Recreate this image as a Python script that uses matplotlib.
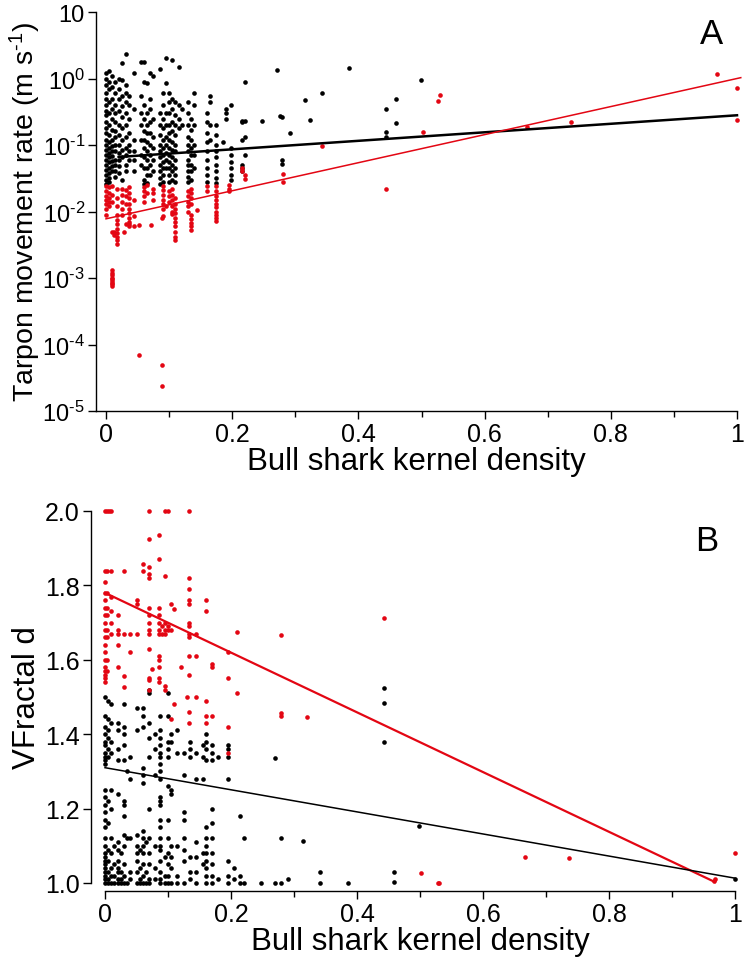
import numpy as np
import matplotlib
matplotlib.use("Agg")
import matplotlib.pyplot as plt

plt.rcParams['font.family'] = ['Liberation Sans', 'DejaVu Sans']
plt.rcParams['mathtext.fontset'] = 'custom'
plt.rcParams['mathtext.rm'] = 'Liberation Sans'
plt.rcParams['mathtext.default'] = 'regular'

RED = '#e30613'

# ---- panel A: movement rate (log scale), points grouped by kernel-density column
a_blk_x = [0.0, 0.004, 0.009, 0.015, 0.02, 0.026, 0.031, 0.036, 0.045, 0.055,
           0.06, 0.065, 0.07, 0.075, 0.085, 0.09, 0.095, 0.1, 0.105, 0.11,
           0.115, 0.12, 0.13, 0.135, 0.14, 0.16, 0.165, 0.175, 0.185, 0.19,
           0.198, 0.215, 0.22, 0.248, 0.271, 0.276, 0.279, 0.292, 0.315, 0.323,
           0.342, 0.385, 0.444, 0.46, 0.499]
a_blk_y = [
    [1.2, 1.0, 0.8, 0.6, 0.5, 0.4, 0.33, 0.28, 0.22, 0.18, 0.15, 0.12, 0.1, 0.085, 0.07, 0.06, 0.05, 0.042, 0.035, 0.03, 0.026],
    [1.3, 0.9, 0.7, 0.45, 0.3, 0.2, 0.14, 0.11, 0.09, 0.075, 0.065, 0.055, 0.045, 0.038, 0.032, 0.028],
    [1.1, 0.75, 0.5, 0.35, 0.25, 0.17, 0.12, 0.095, 0.08, 0.068, 0.058, 0.048, 0.04],
    [0.9, 0.6, 0.4, 0.3, 0.22, 0.16, 0.13, 0.1, 0.08, 0.06, 0.05, 0.04, 0.033],
    [1.0, 0.7, 0.5, 0.32, 0.2, 0.14, 0.1, 0.075, 0.06, 0.048, 0.038],
    [1.7, 0.95, 0.55, 0.38, 0.26, 0.18, 0.12, 0.085, 0.065, 0.03],
    [2.3, 0.8, 0.6, 0.45, 0.3, 0.2, 0.13, 0.09, 0.07, 0.05, 0.04],
    [0.55, 0.4, 0.25, 0.15, 0.1, 0.08, 0.06],
    [1.2, 0.35, 0.12, 0.08, 0.06, 0.04],
    [1.8, 0.55, 0.3, 0.2, 0.12, 0.07, 0.05],
    [1.8, 0.9, 0.4, 0.25, 0.16, 0.12, 0.09, 0.065, 0.045, 0.03, 0.026],
    [0.85, 0.3, 0.2, 0.15, 0.11, 0.08, 0.06, 0.045, 0.035, 0.027],
    [1.2, 0.5, 0.35, 0.22, 0.15, 0.1, 0.07, 0.05, 0.035],
    [1.1, 0.25, 0.13, 0.09, 0.06, 0.04],
    [1.4, 0.3, 0.2, 0.14, 0.1, 0.08, 0.065, 0.05, 0.04, 0.032, 0.026],
    [0.6, 0.4, 0.25, 0.18, 0.12, 0.09, 0.07, 0.055, 0.045, 0.035, 0.028],
    [2.0, 0.85, 0.3, 0.2, 0.13, 0.1, 0.075, 0.06, 0.045],
    [0.6, 0.45, 0.3, 0.2, 0.15, 0.12, 0.09, 0.07, 0.055, 0.045, 0.035, 0.028],
    [1.9, 0.5, 0.35, 0.22, 0.16, 0.11, 0.085, 0.065, 0.05, 0.04, 0.03],
    [0.45, 0.28, 0.2, 0.14, 0.1, 0.08, 0.06, 0.045, 0.035, 0.028],
    [1.5, 0.4, 0.25, 0.18],
    [0.35, 0.2],
    [0.45, 0.3, 0.2, 0.13, 0.1, 0.08, 0.06, 0.05, 0.04, 0.033, 0.028],
    [0.25, 0.17, 0.12, 0.09, 0.07, 0.05, 0.04, 0.03],
    [0.6, 0.4, 0.2, 0.1, 0.07, 0.045],
    [0.3, 0.22, 0.15, 0.11, 0.08, 0.06, 0.045, 0.035, 0.028],
    [0.55, 0.45, 0.2, 0.12],
    [0.2, 0.14, 0.1, 0.08, 0.065, 0.05, 0.04, 0.032, 0.027],
    [0.11],
    [0.35, 0.3, 0.25],
    [0.4, 0.09, 0.07, 0.055, 0.045, 0.035, 0.03],
    [0.23, 0.22, 0.12, 0.05, 0.045, 0.04],
    [0.9, 0.23, 0.13, 0.07],
    [0.23],
    [1.36],
    [0.275],
    [0.26, 0.06, 0.052],
    [0.152],
    [0.47],
    [0.24],
    [0.6],
    [1.44],
    [0.35, 0.157, 0.13],
    [0.5, 0.215],
    [0.95],
]

a_red_x = [0.0, 0.004, 0.009, 0.013, 0.018, 0.026, 0.029, 0.031, 0.036, 0.045,
           0.052, 0.06, 0.065, 0.072, 0.075, 0.088, 0.09, 0.095, 0.1, 0.104,
           0.105, 0.11, 0.13, 0.135, 0.145, 0.16, 0.175, 0.195, 0.215, 0.22,
           0.28, 0.342, 0.444, 0.502, 0.526, 0.53, 0.667, 0.737, 0.968, 1.0]
a_red_y = [
    [0.024, 0.02, 0.017, 0.015, 0.013, 0.011, 0.009],
    [0.023, 0.019, 0.016, 0.014, 0.012],
    [0.024, 0.018, 0.014, 0.005, 0.0013, 0.0012, 0.0011, 0.001, 0.00095, 0.0009, 0.00085, 0.0008, 0.00075],
    [0.005, 0.0045],
    [0.022, 0.016, 0.012, 0.009, 0.0075, 0.0065, 0.0055, 0.0048, 0.0042, 0.0037, 0.0033],
    [0.022, 0.018, 0.014, 0.011, 0.009],
    [0.0049],
    [0.021, 0.017, 0.013, 0.0065],
    [0.023, 0.019, 0.016, 0.013, 0.011, 0.0095, 0.008, 0.007, 0.0065, 0.006],
    [0.015, 0.0085, 0.006],
    [0.0063, 0.000069],
    [0.023, 0.02, 0.017, 0.014],
    [0.025, 0.019],
    [0.0063],
    [0.022, 0.019, 0.015],
    [0.0081, 0.000049, 0.000024],
    [0.024, 0.021, 0.018, 0.015, 0.013, 0.011, 0.0085],
    [0.012],
    [0.02, 0.017, 0.014],
    [0.0092],
    [0.022, 0.018, 0.015, 0.012, 0.01],
    [0.016, 0.013, 0.011, 0.0095, 0.008, 0.007, 0.006, 0.005, 0.0042, 0.0037],
    [0.02, 0.017, 0.014, 0.012, 0.01],
    [0.022, 0.019, 0.016, 0.013, 0.009, 0.0078, 0.0068, 0.006, 0.0053],
    [0.0105],
    [0.024, 0.02],
    [0.024, 0.02, 0.017, 0.015, 0.013, 0.0115, 0.01, 0.009, 0.008, 0.0072],
    [0.025, 0.022, 0.02],
    [0.045, 0.04],
    [0.035, 0.031],
    [0.037, 0.028],
    [0.098],
    [0.022],
    [0.157],
    [0.46],
    [0.57],
    [0.185],
    [0.22],
    [1.17],
    [0.72, 0.24],
]

# fitted lines: log10(y) = intercept + slope * x, drawn over x range
a_blk_fit = (-1.193, 0.64)
a_blk_range = (0.02, 1.0)
a_red_fit = (-2.11, 2.11)
a_red_range = (0.0, 1.006)

a_yticks = [1e-5, 1e-4, 1e-3, 1e-2, 1e-1, 1e0, 1e1]
a_yticklabels = ['$10^{\\text{-}5}$', '$10^{\\text{-}4}$', '$10^{\\text{-}3}$',
                 '$10^{\\text{-}2}$', '$10^{\\text{-}1}$', '$10^{0}$', '10']

# ---- panel B: VFractal d
b_blk_x = [0.0, 0.005, 0.01, 0.015, 0.02, 0.025, 0.03, 0.035, 0.04, 0.05,
           0.055, 0.06, 0.065, 0.07, 0.08, 0.088, 0.095, 0.1, 0.105, 0.115,
           0.125, 0.135, 0.145, 0.155, 0.16, 0.17, 0.18, 0.195, 0.205, 0.215,
           0.22, 0.248, 0.27, 0.28, 0.29, 0.314, 0.341, 0.385, 0.443, 0.459,
           0.498, 1.0]
b_blk_y = [
    [1.5, 1.45, 1.42, 1.4, 1.38, 1.37, 1.35, 1.34, 1.33, 1.32, 1.25, 1.23, 1.21, 1.19, 1.17, 1.15, 1.12, 1.1, 1.08, 1.07, 1.06, 1.05, 1.04, 1.03, 1.02, 1.01, 1.0],
    [1.49, 1.44, 1.41, 1.39, 1.36, 1.34, 1.22, 1.16, 1.09, 1.06, 1.03, 1.01, 1.0],
    [1.48, 1.43, 1.38, 1.35, 1.25, 1.2, 1.12, 1.08, 1.04, 1.02, 1.0],
    [1.1, 1.05, 1.02, 1.0],
    [1.43, 1.41, 1.36, 1.33, 1.24, 1.11, 1.09, 1.06, 1.04, 1.03, 1.01, 1.0],
    [1.08, 1.03, 1.01, 1.0],
    [1.48, 1.42, 1.4, 1.37, 1.33, 1.22, 1.21, 1.18, 1.13, 1.1, 1.05, 1.02, 1.0],
    [1.3, 1.12, 1.0],
    [1.34, 1.28, 1.12, 1.03, 1.01],
    [1.47, 1.41, 1.13, 1.1, 1.08, 1.06, 1.03, 1.0],
    [1.09, 1.04, 1.01, 1.0],
    [1.47, 1.45, 1.42, 1.31, 1.29, 1.27, 1.14, 1.12, 1.1, 1.08, 1.05, 1.02, 1.0],
    [1.11, 1.03, 1.0],
    [1.52, 1.51, 1.43, 1.39, 1.34, 1.2, 1.12, 1.08, 1.05, 1.01, 1.0],
    [1.4, 1.36, 1.29, 1.1, 1.04, 1.01],
    [1.45, 1.41, 1.39, 1.37, 1.35, 1.34, 1.32, 1.3, 1.28, 1.23, 1.22, 1.21, 1.17, 1.15, 1.12, 1.1, 1.09, 1.06, 1.03, 1.01, 1.0],
    [1.07, 1.02, 1.0],
    [1.51, 1.45, 1.38, 1.36, 1.34, 1.26, 1.17, 1.12, 1.08, 1.05, 1.02, 1.0],
    [1.4, 1.38, 1.25, 1.24, 1.1, 1.07, 1.04, 1.0],
    [1.41, 1.35, 1.1, 1.02, 1.0],
    [1.35, 1.29, 1.19, 1.17, 1.12, 1.09, 1.06, 1.0],
    [1.38, 1.36, 1.34, 1.07, 1.03, 1.01],
    [1.35, 1.28, 1.11, 1.07, 1.03, 1.0],
    [1.37, 1.34, 1.28, 1.08, 1.05],
    [1.4, 1.38, 1.36, 1.33, 1.15, 1.12, 1.1, 1.08, 1.06, 1.04, 1.02, 1.0],
    [1.37, 1.35, 1.33, 1.2, 1.16, 1.12, 1.08, 1.05, 1.02, 1.0],
    [1.34, 1.01],
    [1.37, 1.36, 1.34, 1.28, 1.06, 1.02, 1.0],
    [1.04, 1.01],
    [1.18, 1.02, 1.0],
    [1.12, 1.0],
    [1.0],
    [1.0, 1.337],
    [1.121, 1.0],
    [1.01],
    [1.112],
    [1.03, 1.0],
    [1.0],
    [1.524, 1.484, 1.379],
    [1.03, 1.003],
    [1.153],
    [1.01],
]

b_red_x = [0.0, 0.003, 0.006, 0.01, 0.02, 0.03, 0.04, 0.05, 0.06, 0.07,
           0.075, 0.085, 0.09, 0.095, 0.1, 0.105, 0.11, 0.12, 0.13, 0.133,
           0.145, 0.16, 0.17, 0.195, 0.21, 0.28, 0.32, 0.443, 0.502, 0.528,
           0.53, 0.667, 0.737, 0.967, 0.969, 1.0]
b_red_y = [
    [2.0, 1.84, 1.81, 1.78, 1.76, 1.74, 1.72, 1.7, 1.68, 1.66, 1.64, 1.62, 1.6, 1.58, 1.57, 1.56, 1.55, 1.54],
    [2.0, 1.84, 1.78, 1.74, 1.72, 1.68, 1.66, 1.6, 1.57],
    [2.0],
    [2.0, 1.84, 1.77, 1.73, 1.7, 1.67],
    [1.72, 1.68, 1.67, 1.64, 1.58],
    [1.84, 1.67, 1.556, 1.526],
    [1.67, 1.62],
    [1.76, 1.75, 1.67],
    [1.857, 1.84],
    [2.0, 1.926, 1.85, 1.83, 1.82, 1.74, 1.72, 1.7, 1.68, 1.67, 1.63, 1.55, 1.545, 1.52],
    [1.574],
    [1.936, 1.87, 1.74, 1.72, 1.7, 1.68, 1.67, 1.61, 1.6, 1.58, 1.55, 1.54],
    [1.69, 1.67],
    [2.0, 1.826, 1.7, 1.68, 1.67, 1.53, 1.52],
    [2.0, 1.69, 1.68],
    [1.75, 1.68, 1.44],
    [1.737, 1.48],
    [1.58],
    [1.5],
    [2.0, 1.82, 1.79, 1.76, 1.75, 1.7, 1.69, 1.67, 1.66, 1.61, 1.56, 1.46, 1.43],
    [1.67, 1.61, 1.5],
    [1.76, 1.73, 1.49, 1.45, 1.43],
    [1.59, 1.58, 1.45],
    [1.62, 1.55, 1.42, 1.35],
    [1.675, 1.51],
    [1.667, 1.456, 1.45],
    [1.445],
    [1.713],
    [1.028],
    [1.0],
    [1.0],
    [1.071],
    [1.067],
    [1.006],
    [1.01],
    [1.08],
]

# fitted lines: y = intercept + slope * x
b_red_fit = (1.78, -0.803)
b_red_range = (0.0, 0.968)
b_blk_fit = (1.31, -0.297)
b_blk_range = (0.0, 1.0)

x_ticks = [0, 0.2, 0.4, 0.6, 0.8, 1.0]
x_ticklabels = ['0', '0.2', '0.4', '0.6', '0.8', '1']
b_yticks = [1.0, 1.2, 1.4, 1.6, 1.8, 2.0]


def flatten(cols, vals):
    xs, ys = [], []
    for c, v in zip(cols, vals):
        xs += [c] * len(v)
        ys += v
    return np.array(xs), np.array(ys)


fig = plt.figure(figsize=(7.48, 9.70), dpi=100)
DOT = 11

# ---------------- panel A
axA = fig.add_axes([96 / 748, 1 - 412 / 970, 641 / 748, 399 / 970])
axA.set_yscale('log')
x, y = flatten(a_blk_x, a_blk_y)
axA.scatter(x, y, s=DOT, c='black', linewidths=0, zorder=2, clip_on=False)
x, y = flatten(a_red_x, a_red_y)
axA.scatter(x, y, s=DOT, c=RED, linewidths=0, zorder=2, clip_on=False)

xl = np.array(a_blk_range)
axA.plot(xl, 10 ** (a_blk_fit[0] + a_blk_fit[1] * xl), color='black', lw=1.8,
         zorder=3, clip_on=False)
xl = np.array(a_red_range)
axA.plot(xl, 10 ** (a_red_fit[0] + a_red_fit[1] * xl), color=RED, lw=1.1,
         zorder=3, clip_on=False)

axA.set_xlim(-10 / 631, 1.0)
axA.set_ylim(1e-5, 10)
axA.set_yticks(a_yticks)
axA.set_yticklabels(a_yticklabels)
axA.yaxis.set_minor_locator(matplotlib.ticker.NullLocator())
axA.set_xticks(x_ticks)
axA.set_xticklabels(x_ticklabels)
axA.set_xticks([0.1, 0.3, 0.5, 0.7, 0.9], minor=True)
axA.set_xlabel('Bull shark kernel density', fontsize=22.5, labelpad=0)
axA.text(0.96, 0.945, 'A', transform=axA.transAxes, fontsize=25,
         ha='center', va='center')

# ---------------- panel B
axB = fig.add_axes([105 / 748, 1 - 884 / 970, 630 / 748, 372 / 970])
x, y = flatten(b_blk_x, b_blk_y)
axB.scatter(x, y, s=DOT, c='black', linewidths=0, zorder=2, clip_on=False)
x, y = flatten(b_red_x, b_red_y)
axB.scatter(x, y, s=DOT, c=RED, linewidths=0, zorder=2, clip_on=False)

xl = np.array(b_red_range)
axB.plot(xl, b_red_fit[0] + b_red_fit[1] * xl, color=RED, lw=1.6, zorder=3,
         clip_on=False)
xl = np.array(b_blk_range)
axB.plot(xl, b_blk_fit[0] + b_blk_fit[1] * xl, color='black', lw=1.1, zorder=3,
         clip_on=False)

axB.set_xlim(0, 1.0)
axB.set_ylim(1.0, 2.0)
axB.set_yticks(b_yticks)
axB.set_yticklabels(['%.1f' % v for v in b_yticks])
axB.set_xticks(x_ticks)
axB.set_xticklabels(x_ticklabels)
axB.set_xticks([0.1, 0.3, 0.5, 0.7, 0.9], minor=True)
axB.spines['left'].set_position(('outward', 10))
axB.spines['bottom'].set_position(('outward', 6))
axB.set_xlabel('Bull shark kernel density', fontsize=22.5, labelpad=0)
axB.text(0.955, 0.92, 'B', transform=axB.transAxes, fontsize=25,
         ha='center', va='center')

for ax in (axA, axB):
    ax.spines['top'].set_visible(False)
    ax.spines['right'].set_visible(False)
    ax.spines['left'].set_linewidth(1.0)
    ax.spines['bottom'].set_linewidth(1.0)
    ax.tick_params(axis='both', which='major', labelsize=18, length=6,
                   width=1.0, pad=2)
    ax.tick_params(axis='x', which='minor', length=4, width=1.0)
    ax.patch.set_visible(False)
axA.tick_params(axis='y', labelsize=17)

# y labels placed at fixed figure x so they sit where the reference has them
fig.text(25 / 748, 1 - 212 / 970, 'Tarpon movement rate (m s$^{\\text{-}1}$)',
         fontsize=20.5, rotation=90, ha='center', va='center')
fig.text(27 / 748, 1 - 698 / 970, 'VFractal d', fontsize=22.5, rotation=90,
         ha='center', va='center')

fig.savefig('out.png', dpi=100)
